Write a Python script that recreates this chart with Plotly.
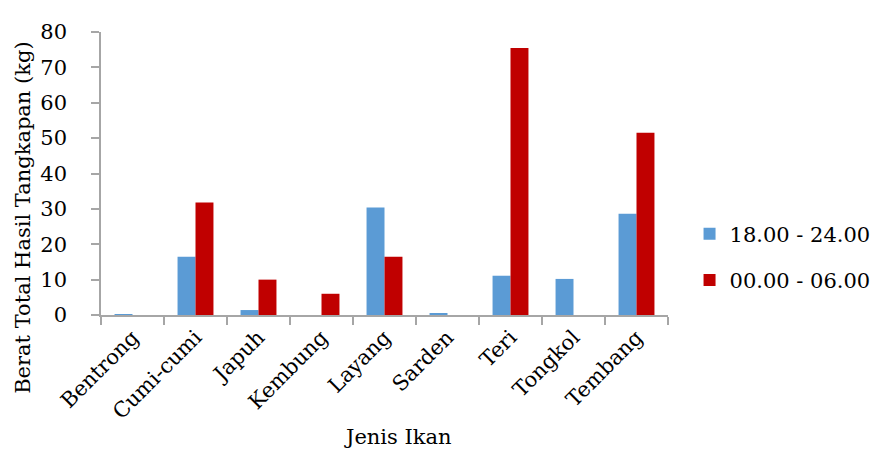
import plotly.graph_objects as go

categories = ["Bentrong", "Cumi-cumi", "Japuh", "Kembung", "Layang", "Sarden", "Teri", "Tongkol", "Tembang"]
series_1_name = "18.00 - 24.00"
series_1 = [0.2, 16.5, 1.4, 0, 30.4, 0.3, 11.1, 10.2, 28.6]
series_2_name = "00.00 - 06.00"
series_2 = [0, 31.8, 10.0, 6.0, 16.5, 0, 75.5, 0, 51.5]
y_ticks = [0, 10, 20, 30, 40, 50, 60, 70, 80]

FONT = "DejaVu Serif"
AXIS = "#a6a6a6"

fig = go.Figure()
fig.add_trace(go.Bar(x=categories, y=series_1, name=series_1_name,
                     marker=dict(color="#5B9BD5", line=dict(width=0)),
                     legendgroup="a"))
fig.add_trace(go.Bar(x=categories, y=series_2, name=series_2_name,
                     marker=dict(color="#C00000", line=dict(width=0)),
                     legendgroup="b"))

fig.update_layout(
    width=880, height=450,
    margin=dict(l=93, r=219, t=14, b=143),
    paper_bgcolor="white", plot_bgcolor="white",
    font=dict(family=FONT, size=21, color="black"),
    barmode="group", bargap=0.43, bargroupgap=0,
    showlegend=True,
    legend=dict(x=1.038, xanchor="left", y=0.205, yanchor="middle",
                font=dict(family=FONT, size=21), tracegroupgap=16,
                itemwidth=30, bgcolor="rgba(0,0,0,0)"),
    xaxis=dict(
        type="category", showline=True, linecolor=AXIS, linewidth=1.5,
        ticks="outside", tickson="boundaries", ticklen=8, tickcolor=AXIS, tickwidth=1.5,
        tickangle=-45, tickfont=dict(family=FONT, size=21), showgrid=False,
    ),
    yaxis=dict(
        range=[0, 80], tickvals=y_ticks, showline=True, linecolor=AXIS, linewidth=1.5,
        ticks="outside", ticklen=8, tickcolor=AXIS, tickwidth=1.5,
        tickfont=dict(family=FONT, size=21), showgrid=False, zeroline=False,
        ticklabelstandoff=20,
    ),
    annotations=[
        dict(text="Berat Total Hasil Tangkapan (kg)", textangle=-90,
             xref="paper", yref="paper", x=-0.139, y=0.344,
             xanchor="center", yanchor="middle", showarrow=False,
             font=dict(family=FONT, size=21)),
        dict(text="Jenis Ikan", xref="paper", yref="paper", x=0.523, y=-0.43,
             xanchor="center", yanchor="middle", showarrow=False,
             font=dict(family=FONT, size=21)),
    ],
)

fig.write_html("out.html")
